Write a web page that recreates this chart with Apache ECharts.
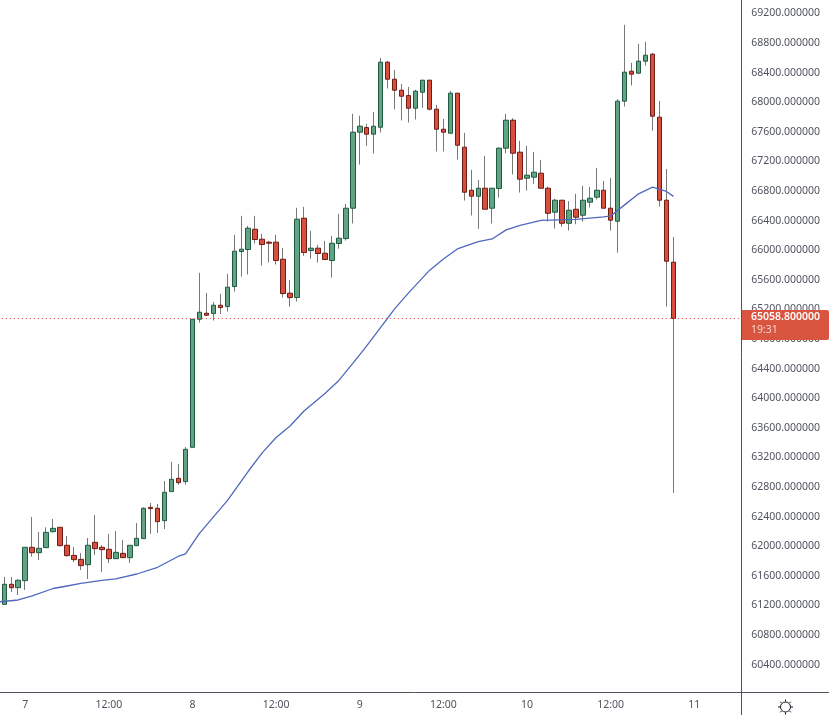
<!DOCTYPE html>
<html>
<head>
<meta charset="utf-8">
<style>html,body{margin:0;padding:0;background:#fff;overflow:hidden}#c{width:829px;height:715px}</style>
<script src="https://cdn.jsdelivr.net/npm/echarts@6/dist/echarts.min.js"></script>
</head>
<body>
<div id="c"></div>
<script>
// Hourly candles, values
const opens = [61195,61466,61420,61515,61966,61893,61961,62177,62236,61993,61857,61803,61731,62033,61966,61939,61812,61884,61826,61988,62083,62506,62493,62326,62718,62898,62853,63317,
65047,65128,65124,65236,65218,65489,65962,65989,66263,66128,66088,66088,65858,65399,65340,66412,65975,66007,65939,65840,66070,66137,
66547,67574,67637,67547,67641,68520,68290,68141,68069,67898,68114,68277,67885,67614,67560,68101,67371,66790,66709,66817,66547,66813,67358,67736,67304,66952,66966,
67020,66817,66493,66655,66344,66533,66452,66628,66696,66790,66547,66371,67993,68398,68371,68533,68628,67777,66655,65818];
const closes = [61466,61420,61520,61966,61893,61952,62168,62222,61988,61853,61799,61718,61993,61947,61934,61812,61898,61826,61993,62087,62493,62488,62312,62709,62884,62839,63290,65047,
65142,65101,65236,65205,65480,65966,65993,66277,66124,66056,66074,65840,65394,65340,66399,65948,66007,65935,65854,66074,66142,66547,
67574,67655,67547,67655,68520,68290,68141,68060,67898,68128,68277,67885,67614,67574,68101,67398,66763,66709,66817,66533,66817,67358,67736,67290,66939,66993,67033,
66817,66479,66655,66344,66520,66425,66655,66682,66790,66547,66385,67993,68385,68358,68533,68614,67790,66655,65831,65058.8];
const highs = [61565,61565,61533,61966,62375,62173,62236,62348,62236,62119,61970,61889,62092,62402,61993,62146,62186,62065,61993,62294,62506,62565,62551,62862,63119,63092,63321,65047,
65673,65403,65281,65390,65660,66187,66444,66308,66444,66200,66106,66187,66011,65579,66552,66565,66241,66052,66106,66173,66471,66606,
67822,67795,67687,67849,68578,68538,68416,68227,68186,68146,68277,68277,67943,67754,68132,68101,67565,67065,66930,67254,66817,67371,67822,67763,67457,67389,67308,
67200,66840,66673,66655,66642,66741,66849,66835,67092,66916,66957,68020,69024,68511,68768,68795,68646,67997,67078,66159];
const lows = [61195,61362,61321,61389,61839,61794,61961,62164,61975,61839,61767,61659,61538,61862,61632,61754,61812,61826,61754,61988,62083,62146,62159,62213,62718,62812,62812,63317,
65002,65092,65029,65119,65151,65421,65624,65651,66070,65772,65813,65786,65340,65218,65286,65903,65863,65813,65854,65610,66000,66110,
66340,67137,67389,67286,67569,68164,67880,67732,67705,67745,67903,67867,67313,67313,67560,67204,66650,66448,66268,66533,66340,66691,67286,67002,66759,66786,66876,
66817,66367,66272,66299,66245,66331,66367,66556,66664,66547,66245,65948,67921,68205,68371,68475,67596,66569,65218,62700];

// Moving average: readings at selected axis positions (0 = just left of the first candle)
const maPositions = [0,3,5,8,10,12,15,17,20,23,26,27,29,33,36,38,40,42,44,47,49,51,53,55,57,59,62,64,66,69,71,73,75,78,83,87,88,90,92,94,96,97];
const maValues = [61227,61254,61308,61409,61443,61477,61518,61538,61605,61696,61845,61876,62153,62597,62993,63241,63450,63605,63808,64045,64220,64450,64686,64936,65186,65403,65707,65862,65997,66095,66132,66254,66315,66382,66396,66430,66443,66592,66741,66831,66774,66707];

// Axis tick labels by position
const tickPositions = [4,16,28,40,52,64,76,88,100];
const tickLabels = ['7','12:00','8','12:00','9','12:00','10','12:00','11'];
const lastPrice = 65058.8;
const lastPriceText = '65058.800000';
const countdownText = '19:31';

const leadingSlots = 1, trailingSlots = 9;
const slotCount = leadingSlots + opens.length + trailingSlots;
const categories = Array.from({length: slotCount}, (_, i) => {
  const t = tickPositions.indexOf(i);
  return t >= 0 ? tickLabels[t] : '';
});
const pad = new Array(leadingSlots).fill('-');
const wickData = pad.concat(opens.map((o, i) => [o, closes[i], lows[i], highs[i]]));
const bodyData = pad.concat(opens.map((o, i) => [o, closes[i], Math.min(o, closes[i]), Math.max(o, closes[i])]));
const maData = new Array(slotCount).fill(null);
maPositions.forEach((p, i) => { maData[p] = maValues[i]; });

const FONT = '"Noto Sans", sans-serif';
const TXT = '#50535e';
const band = 6.97;
const chart = echarts.init(document.getElementById('c'), null, {renderer: 'canvas'});
chart.setOption({
  animation: false,
  backgroundColor: '#ffffff',
  grid: {left: 4.3 - 1.5 * band, width: band * slotCount, top: 0, height: 692.8, outerBoundsMode: 'none'},
  xAxis: {
    type: 'category', data: categories, boundaryGap: true,
    axisLine: {show: false}, axisTick: {show: false}, splitLine: {show: false},
    axisLabel: {interval: 0, hideOverlap: false, color: TXT, fontFamily: FONT, fontSize: 10.5, margin: 7}
  },
  yAxis: {
    type: 'value', position: 'right', scale: true, min: 60000, max: 69360, interval: 400,
    axisLine: {show: false}, axisTick: {show: false}, splitLine: {show: false},
    axisLabel: {
      margin: 11.5, color: TXT, fontFamily: FONT, fontSize: 10.5,
      showMinLabel: false, showMaxLabel: false,
      formatter: v => '{p|' + v.toFixed(6) + '}',
      rich: {p: {color: TXT, fontFamily: FONT, fontSize: 10.5, padding: [3, 0, 0, 0]}}
    }
  },
  series: [
    {
      name: 'wicks', type: 'candlestick', data: wickData, barWidth: 1,
      itemStyle: {color: '#787878', color0: '#787878', borderColor: '#787878', borderColor0: '#787878', borderWidth: 1},
      z: 2,
      markLine: {
        silent: true, symbol: 'none', label: {show: false},
        lineStyle: {color: '#e0483c', type: [1, 3], width: 1},
        data: [{yAxis: lastPrice}]
      }
    },
    {
      name: 'bodies', type: 'candlestick', data: bodyData, barWidth: 5,
      itemStyle: {color: '#62a383', color0: '#d94f3d', borderColor: '#1f5b40', borderColor0: '#6e1c16', borderWidth: 1},
      z: 3
    },
    {
      name: 'MA', type: 'line', data: maData, connectNulls: true, showSymbol: false, symbol: 'none',
      lineStyle: {color: '#4f68bd', width: 1.3}, z: 4, silent: true
    }
  ]
});

const py = chart.convertToPixel({yAxisIndex: 0}, lastPrice);
const AX = '#50535e';
const sunX = 785.5, sunY = 707;
const rays = [];
for (let a = 0; a < 8; a++) {
  const r = a * Math.PI / 4;
  rays.push({type: 'line', silent: true, z: 20,
    shape: {x1: sunX + Math.cos(r) * 5.5, y1: sunY + Math.sin(r) * 5.5, x2: sunX + Math.cos(r) * 7.5, y2: sunY + Math.sin(r) * 7.5},
    style: {stroke: '#131722', lineWidth: 1}});
}
chart.setOption({graphic: [
  {type: 'line', silent: true, z: 10, shape: {x1: 0, y1: 692.5, x2: 829, y2: 692.5}, style: {stroke: AX, lineWidth: 1}},
  {type: 'line', silent: true, z: 10, shape: {x1: 741.5, y1: 0, x2: 741.5, y2: 715}, style: {stroke: AX, lineWidth: 1}},
  {type: 'rect', silent: true, z: 15, shape: {x: 742, y: Math.round(py) - 8, width: 87, height: 30, r: [0, 2, 2, 0]}, style: {fill: '#d9553f'}},
  {type: 'text', silent: true, z: 16, x: 751, y: Math.round(py) - 6, style: {text: lastPriceText, fill: '#ffffff', font: '600 10.5px ' + FONT}},
  {type: 'text', silent: true, z: 16, x: 751, y: Math.round(py) + 7, style: {text: countdownText, fill: '#f7d4cd', font: '10.5px ' + FONT}},
  {type: 'circle', silent: true, z: 20, shape: {cx: sunX, cy: sunY, r: 5}, style: {fill: 'none', stroke: '#131722', lineWidth: 1}},
  ...rays
]});
</script>
</body>
</html>
